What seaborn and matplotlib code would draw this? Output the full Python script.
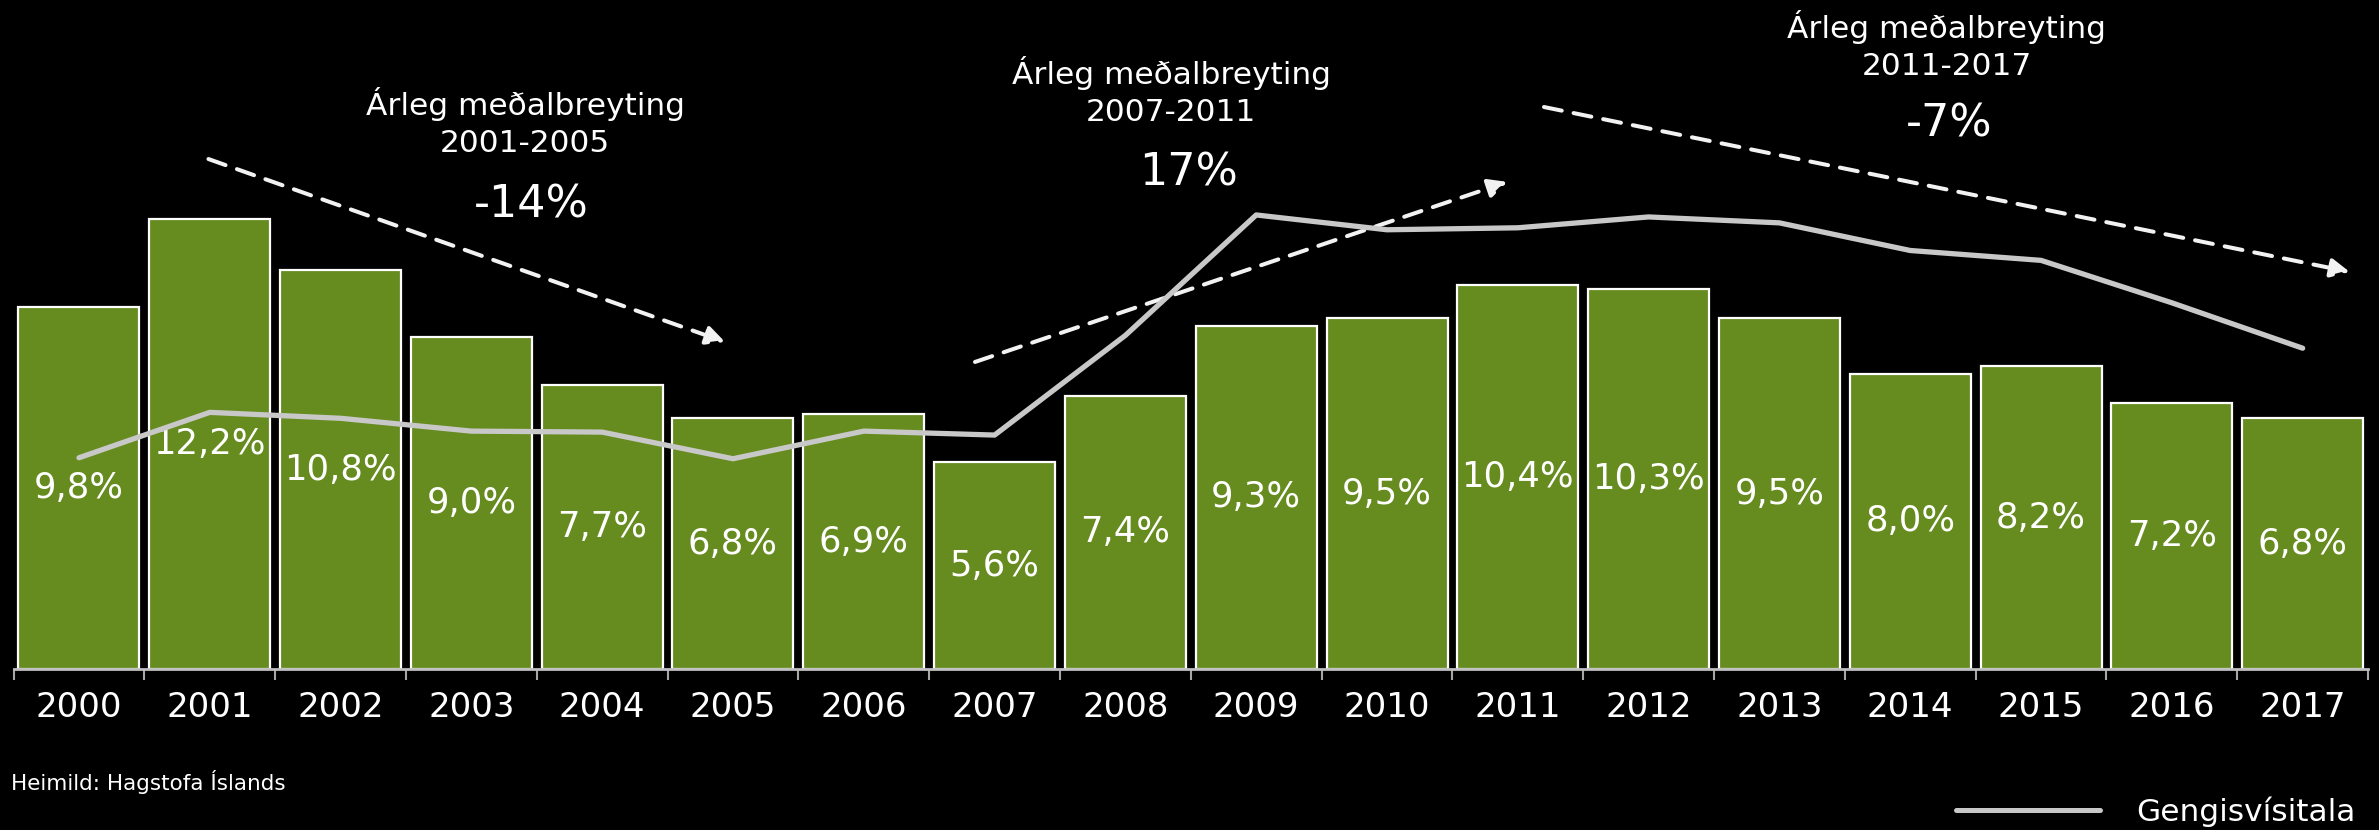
import numpy as np
import pandas as pd
import matplotlib
matplotlib.use('Agg')
import matplotlib.pyplot as plt
import seaborn as sns
from matplotlib.lines import Line2D


years = ['2000', '2001', '2002', '2003', '2004', '2005', '2006', '2007', '2008',
         '2009', '2010', '2011', '2012', '2013', '2014', '2015', '2016', '2017']
share = [9.8, 12.2, 10.8, 9.0, 7.7, 6.8, 6.9, 5.6, 7.4,
         9.3, 9.5, 10.4, 10.3, 9.5, 8.0, 8.2, 7.2, 6.8]
gengi = [107, 130, 127, 120.5, 120, 106.5, 120.5, 118.5, 169,
         230, 222.5, 223.5, 229, 226, 212, 207, 185.5, 162.5]

periods = ['2001-2005', '2007-2011', '2011-2017']
period_change = ['-14%', '17%', '-7%']

GREEN = '#668b1f'
LINE = '#c8c8c8'
WHITE = '#ffffff'

sns.set_theme(style='dark')
plt.rcParams['font.family'] = ['DejaVu Sans']

df = pd.DataFrame({'year': years, 'share': share, 'gengi': gengi})
df['pos'] = df.index

fig = plt.figure(figsize=(23.79, 8.30), dpi=100, facecolor='black')
ax = fig.add_axes([0.0057, 0.194, 0.9897, 0.806])
ax.set_facecolor('black')

sns.barplot(data=df, x='year', y='share', color=GREEN, width=0.925,
            edgecolor=WHITE, linewidth=1.6, saturation=1, ax=ax)
ax.bar_label(ax.containers[0], labels=[f'{v:.1f}%'.replace('.', ',') for v in share],
             label_type='center', color=WHITE, fontsize=25.5)

ax.set_xlim(-0.5, len(years) - 0.5)
ax.set_ylim(0, 18.13)
ax.set_xlabel('')
ax.set_ylabel('')
ax.set_yticks([])
ax.set_xticks(np.arange(len(years)))
ax.set_xticklabels(years, color=WHITE, fontsize=24.5)
ax.set_xticks(np.arange(len(years) + 1) - 0.5, minor=True)
ax.tick_params(axis='x', which='major', length=0, pad=16)
ax.tick_params(axis='x', which='minor', length=8, width=1.5, color='#a6a6a6', bottom=True)
for side in ['top', 'left', 'right']:
    ax.spines[side].set_visible(False)
ax.spines['bottom'].set_color('#bfbfbf')
ax.spines['bottom'].set_linewidth(2)
ax.grid(False)

ax2 = ax.twinx()
sns.lineplot(data=df, x='pos', y='gengi', color=LINE, linewidth=3.8, ax=ax2)
ax2.set_ylim(0, 338.9)
ax2.set_yticks([])
ax2.set_ylabel('')
ax2.set_xlabel('')
ax2.grid(False)
for side in ['top', 'left', 'right', 'bottom']:
    ax2.spines[side].set_visible(False)
ax.set_xlim(-0.5, len(years) - 0.5)

# trend arrows and their captions
arrows = [((0.99, 13.82), (4.94, 8.86)),
          ((6.85, 8.32), (10.92, 13.2)),
          ((11.2, 15.23), (17.36, 10.76))]
caption_xy = [(3.41, 14.82), (8.35, 15.66), (14.28, 16.9)]
change_xy = [(3.46, 12.57), (8.48, 13.45), (14.3, 14.77)]

for (start, end), period, change, cxy, pxy in zip(arrows, periods, period_change,
                                                  caption_xy, change_xy):
    ax.annotate('', xy=end, xytext=start, annotation_clip=False,
                arrowprops=dict(arrowstyle='-|>', color='#f2f2f2', lw=2.9,
                                linestyle=(0, (4.5, 3)), mutation_scale=28,
                                shrinkA=0, shrinkB=0))
    ax.text(cxy[0], cxy[1], f'Árleg meðalbreyting\n{period}', ha='center', va='center',
            color=WHITE, fontsize=22.5, linespacing=1.35, clip_on=False)
    ax.text(pxy[0], pxy[1], change, ha='center', va='center',
            color=WHITE, fontsize=32, clip_on=False)

fig.text(0.0045, 0.058, 'Heimild: Hagstofa Íslands', color=WHITE, fontsize=15.5,
         va='center', ha='left')

fig.legend(handles=[Line2D([], [], color=LINE, linewidth=3.6)], labels=['Gengisvísitala'],
           loc='center right', bbox_to_anchor=(0.99, 0.022), frameon=False,
           fontsize=22.5, labelcolor=WHITE, handlelength=4.6, handletextpad=1.15,
           borderpad=0, borderaxespad=0)

fig.savefig('out.png', facecolor='black')
